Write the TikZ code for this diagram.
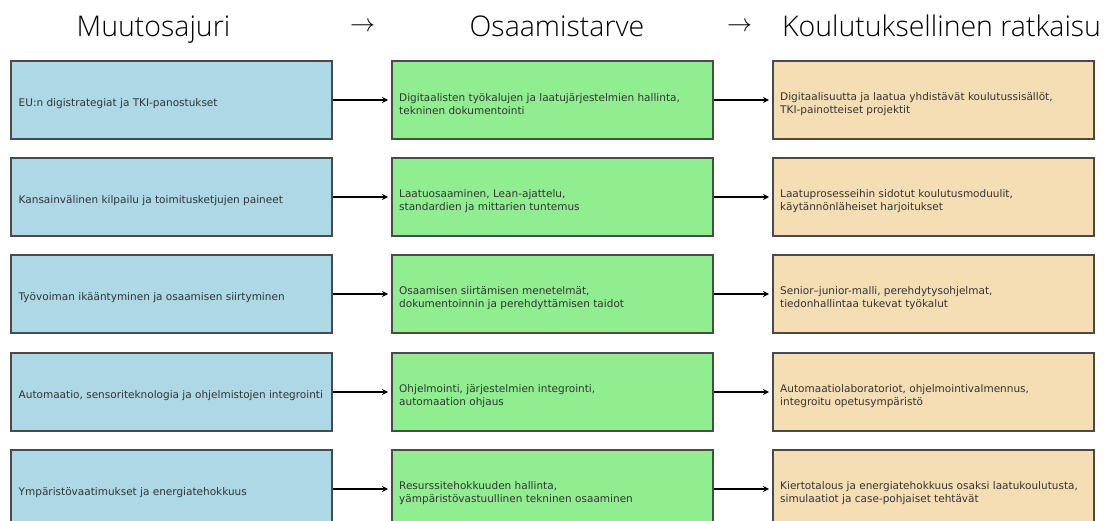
\documentclass[tikz,border=0pt]{standalone}
\usepackage{fontspec}
\setmainfont{DejaVu Sans}
\newfontfamily\headfont{Open Sans}[UprightFont={* Light}]
\usetikzlibrary{arrows.meta}

\definecolor{driverfill}{HTML}{ADD8E6}
\definecolor{skillfill}{HTML}{90EE90}
\definecolor{trainfill}{HTML}{F5DEB3}
\definecolor{edgegrey}{HTML}{4A4A4A}
\definecolor{textgrey}{HTML}{333333}

\begin{document}
\begin{tikzpicture}[x=1pt, y=-1pt,
  cell/.style={draw=edgegrey, line width=2pt, minimum width=321pt,
    minimum height=78pt, inner sep=0pt, anchor=north west},
  celltext/.style={text=textgrey, font=\fontsize{10.5}{12.5}\selectfont,
    align=left, anchor=west, inner sep=0pt},
  link/.style={-{Stealth[length=6pt,width=6pt]}, line width=2pt,
    black, shorten >=3pt},
  head/.style={font=\headfont\fontsize{28.5}{32}\selectfont, text=black,
    anchor=base, inner sep=0pt},
  headarrow/.style={font=\fontsize{30}{32}\selectfont, text=black,
    anchor=center, inner sep=0pt}]

\clip (0,0) rectangle (1104,521);

% column titles
\node[head] (h1) at (153.5,37) {Muutosajuri};
\node[headarrow] (ha1) at (362.5,27) {$\rightarrow$};
\node[head] (h2) at (557,37) {Osaamistarve};
\node[headarrow] (ha2) at (739.5,27) {$\rightarrow$};
\node[head] (h3) at (941.5,37) {Koulutuksellinen ratkaisu};

% one row per driver: driver -> skill need -> training solution
\foreach \i/\top/\drv/\skl/\sol in {
  0/60/{EU:n digistrategiat ja TKI-panostukset}/{Digitaalisten työkalujen ja laatujärjestelmien hallinta,\\tekninen dokumentointi}/{Digitaalisuutta ja laatua yhdistävät koulutussisällöt,\\TKI-painotteiset projektit},
  1/157/{Kansainvälinen kilpailu ja toimitusketjujen paineet}/{Laatuosaaminen, Lean-ajattelu,\\standardien ja mittarien tuntemus}/{Laatuprosesseihin sidotut koulutusmoduulit,\\käytännönläheiset harjoitukset},
  2/254/{Työvoiman ikääntyminen ja osaamisen siirtyminen}/{Osaamisen siirtämisen menetelmät,\\dokumentoinnin ja perehdyttämisen taidot}/{Senior–junior-malli, perehdytysohjelmat,\\tiedonhallintaa tukevat työkalut},
  3/352/{Automaatio, sensoriteknologia ja ohjelmistojen integrointi}/{Ohjelmointi, järjestelmien integrointi,\\automaation ohjaus}/{Automaatiolaboratoriot, ohjelmointivalmennus,\\integroitu opetusympäristö},
  4/449/{Ympäristövaatimukset ja energiatehokkuus}/{Resurssitehokkuuden hallinta,\\yämpäristövastuullinen tekninen osaaminen}/{Kiertotalous ja energiatehokkuus osaksi laatukoulutusta,\\simulaatiot ja case-pohjaiset tehtävät}} {
  \node[cell, fill=driverfill] (d\i) at (10,\top) {};
  \node[cell, fill=skillfill] (k\i) at (391,\top) {};
  \node[cell, fill=trainfill] (s\i) at (772,\top) {};
  \node[celltext] (dt\i) at ([xshift=8.5pt,yshift=-4pt]d\i.west) {\drv};
  \node[celltext] (kt\i) at ([xshift=8pt,yshift=-4pt]k\i.west) {\skl};
  \node[celltext] (st\i) at ([xshift=8pt,yshift=-4pt]s\i.west) {\sol};
  \draw[link] (d\i.east) -- (k\i.west);
  \draw[link] (k\i.east) -- (s\i.west);
}
\end{tikzpicture}
\end{document}
